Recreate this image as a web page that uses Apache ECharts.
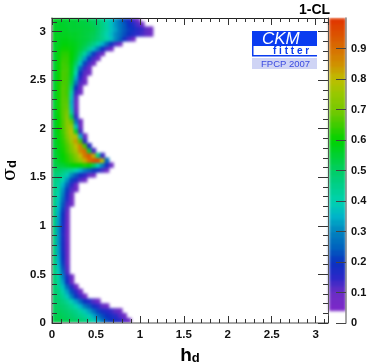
<!DOCTYPE html>
<html><head><meta charset="utf-8">
<style>html,body{margin:0;padding:0;background:#fff}#c{width:374px;height:363px}
#c canvas[data-zr-dom-id="zr_0"]{filter:blur(1.8px)}</style>
<script src="https://cdn.jsdelivr.net/npm/echarts@6/dist/echarts.min.js"></script>
</head><body><div id="c"></div>
<script>
const hStep = 0.05, sigmaStep = 0.05;
const xTickLabels = ['0','0.5','1','1.5','2','2.5','3'];
const colorbarLevels = [0.05,0.07,0.09,0.11,0.13,0.15,0.17,0.19,0.21,0.23,0.25,0.27,0.29,0.31,0.33,0.35,0.37,0.39,0.41,0.43,0.45,0.47,0.49,0.51,0.53,0.55,0.57,0.59,0.61,0.63,0.65,0.67,0.69,0.71,0.73,0.75,0.77,0.79,0.81,0.83,0.85,0.87,0.89,0.91,0.93,0.95,0.97,0.99];
const paletteStops = ['#7a28c8','#7a28c8','#6a2cc4','#2a28c8','#0a32c0','#0064be','#0082be','#00b4c8','#00d2af','#00cf8a','#00cd64','#00d032','#00d200','#40cc00','#78c800','#96c800','#bebe00','#d09000','#d76e00','#dc5000','#e13200'];
// 1-CL in percent; rows from sigma_d = 0.025 upward, columns from h_d = 0.025 rightward
const clRows = [
[53,53,52,52,51,50,49,47,44,40,34,28,23,20,18,16,12,9],
[52,52,51,50,49,47,45,43,39,34,28,23,20,18,16,12,9],
[51,51,50,49,47,45,42,38,33,27,22,18,16,14,11,9],
[51,50,49,47,44,40,35,29,24,19,15,11,9],
[50,49,47,44,39,33,26,20,16,12,9],
[50,48,44,38,30,21,14,9],
[49,47,41,33,23,15,9],
[49,45,37,26,16,9],
[49,43,33,19,10],
[48,42,30,17,9],
[48,39,26,12],
[48,37,23,11],
[48,35,21,10],
[48,34,20,10],
[48,33,19,10],
[47,33,18,9],
[47,32,18,9],
[47,32,18,9],
[47,32,17,9],
[47,32,18,9],
[47,33,18,9],
[47,33,19,10],
[47,34,20,10],
[47,35,22,11],
[47,37,24,13,9],
[47,38,27,16,9],
[46,40,30,18,10],
[46,42,32,21,12,9],
[46,43,35,25,15,9],
[46,45,40,32,22,17,12,9],
[47,47,44,39,31,24,19,15,11,9],
[50,50,48,46,44,40,35,30,25,21,18,13,9],
[52,54,55,57,59,60,60,62,60,52,40,30,18,10],
[53,56,59,62,65,69,74,82,90,95,96,80,25],
[53,57,60,63,67,72,80,89,94,82,45,14],
[53,58,61,65,70,77,86,90,55,13],
[54,58,62,66,72,80,87,65,15],
[54,59,63,68,76,84,65,15],
[54,59,64,70,78,78,35,10],
[54,60,65,72,80,55,13],
[54,60,66,73,76,38,10],
[54,60,66,73,68,28,9],
[54,60,67,72,52,14],
[54,61,67,70,42,11],
[54,61,67,68,37,10],
[54,61,67,67,35,10],
[54,61,67,66,38,11],
[54,61,67,65,42,14,9],
[54,61,67,65,47,20,9],
[54,61,66,65,52,28,12,9],
[54,60,66,65,55,34,15,9],
[54,60,66,65,57,40,20,11,9],
[54,60,65,65,58,44,26,14,9],
[54,60,65,64,59,50,37,22,13,9],
[54,59,64,64,60,54,45,33,21,13,9],
[55,59,63,63,60,56,50,42,32,21,13,9],
[55,58,61,61,59,57,54,50,44,37,29,20,13,9],
[56,57,59,59,58,57,55,53,50,46,41,35,27,19,13,9],
[57,57,58,58,57,56,55,54,53,51,48,45,41,37,31,25,19,13,9],
[57,57,57,57,56,56,55,54,53,52,49,45,40,36,31,27,23,20,17,15,13,11,9],
[56,56,56,56,55,55,55,54,54,53,50,46,42,37,33,28,24,21,19,16,14,11,9],
[56,56,56,55,55,55,54,54,53,52,49,46,42,37,32,28,24,20,17,13,9],
[56,56,55,55,55,54,54,53,52,50,48,45,41,37,32,27,22,18,13,9]
];

const cells = [];
clRows.forEach((row, r) => row.forEach((v, c) => {
  cells.push([(c + 0.5) * hStep, (r + 0.5) * sigmaStep, v / 100]);
}));
const barCells = colorbarLevels.map(v => [0.5, v, v]);

const renderCell = (dx, dy) => (params, api) => {
  const p = api.coord([api.value(0), api.value(1)]);
  const s = api.size([dx, dy]);
  return {type:'rect', shape:{x:p[0]-s[0]/2-0.3, y:p[1]-s[1]/2-0.3, width:s[0]+0.6, height:s[1]+0.6},
          style:{fill:api.visual('color')}};
};
const font = {fontFamily:'Liberation Sans', fontWeight:'bold', color:'#111'};
const dark = '#333', gray = '#888';
const axisCommon = {
  type:'value', min:0, max:3.14, interval:0.5, zlevel:1, minorTick:{show:true, splitNumber:5, length:4, lineStyle:{color:dark}},
  splitLine:{show:false}, minorSplitLine:{show:false}, axisLine:{show:true, onZero:false}
};
const labelFmt = v => xTickLabels[Math.round(v*2)] || '';

const chart = echarts.init(document.getElementById('c'), null, {renderer:'canvas'});
chart.setOption({
  animation:false,
  backgroundColor:'#fff',
  grid:[{left:52, top:18, width:276, height:305, outerBoundsMode:'none'},{left:329, top:18, width:17, height:305, outerBoundsMode:'none'}],
  visualMap:{type:'continuous', show:false, min:0, max:1, dimension:2, seriesIndex:[0,1], inRange:{color:paletteStops}},
  xAxis:[
    {...axisCommon, gridIndex:0, position:'bottom', axisLine:{show:true, onZero:false, lineStyle:{color:gray, width:1.5}},
     axisTick:{inside:true, length:7, lineStyle:{color:dark}}, minorTick:{show:true, splitNumber:5, length:4, lineStyle:{color:dark}},
     axisLabel:{...font, fontSize:11.5, margin:6, showMaxLabel:false, formatter:labelFmt},
     name:'{a|h}{b|d}', nameLocation:'middle', nameGap:18,
     nameTextStyle:{rich:{a:{fontFamily:'Liberation Sans',fontWeight:'bold',fontSize:19,color:'#000'},b:{fontFamily:'Liberation Sans',fontWeight:'bold',fontSize:13,color:'#000',padding:[6,0,0,0]}}}},
    {...axisCommon, gridIndex:0, position:'top', axisLine:{show:true, onZero:false, lineStyle:{color:'#222', width:1}},
     axisTick:{inside:true, length:7, lineStyle:{color:dark}}, axisLabel:{show:false}},
    {type:'value', gridIndex:1, min:0, max:1, show:false}
  ],
  yAxis:[
    {...axisCommon, gridIndex:0, position:'left', axisLine:{show:true, onZero:false, lineStyle:{color:gray, width:1.5}},
     axisTick:{inside:true, length:10, lineStyle:{color:dark}}, minorTick:{show:true, splitNumber:5, length:5, lineStyle:{color:dark}},
     axisLabel:{...font, fontSize:11.5, margin:6, showMaxLabel:false, formatter:labelFmt},
     name:'{a|σ}{b|d}', nameLocation:'middle', nameGap:21,
     nameTextStyle:{rich:{a:{fontFamily:'DejaVu Serif',fontSize:19,color:'#000'},b:{fontFamily:'Liberation Sans',fontWeight:'bold',fontSize:13,color:'#000',padding:[6,0,0,0]}}}},
    {...axisCommon, gridIndex:0, position:'right', axisLine:{show:true, onZero:false, lineStyle:{color:'#555', width:1}},
     axisTick:{inside:true, length:10, lineStyle:{color:dark}}, minorTick:{show:true, splitNumber:5, length:5, lineStyle:{color:dark}}, axisLabel:{show:false}},
    {type:'value', gridIndex:1, position:'right', min:0, max:1, interval:0.1, zlevel:1,
     axisLine:{show:true, onZero:false, lineStyle:{color:gray, width:1.5}},
     axisTick:{inside:true, length:10, lineStyle:{color:'#444'}}, splitLine:{show:false},
     axisLabel:{...font, fontSize:11, margin:5, showMaxLabel:false}}
  ],
  series:[
    {type:'custom', xAxisIndex:0, yAxisIndex:0, zlevel:0, data:cells, clip:true, renderItem:renderCell(hStep, sigmaStep), encode:{x:0,y:1}, silent:true},
    {type:'custom', xAxisIndex:2, yAxisIndex:2, zlevel:0, data:barCells, clip:true, renderItem:renderCell(1, 0.02), encode:{x:0,y:1}, silent:true}
  ],
  graphic:[
    {type:'rect', zlevel:1, z:-10, shape:{x:0, y:0, width:374, height:17.5}, style:{fill:'#fff'}},
    {type:'rect', zlevel:1, z:-10, shape:{x:0, y:0, width:51.5, height:363}, style:{fill:'#fff'}},
    {type:'rect', zlevel:1, z:-10, shape:{x:0, y:323.5, width:374, height:40}, style:{fill:'#fff'}},
    {type:'rect', zlevel:1, z:-10, shape:{x:346.5, y:0, width:28, height:363}, style:{fill:'#fff'}},
    {type:'text', zlevel:1, left:299, top:3, style:{text:'1-CL', font:'bold 14px "Liberation Sans"', fill:'#000'}},
    {type:'rect', zlevel:1, shape:{x:252, y:31, width:65, height:15}, style:{fill:'#0a3cf0'}},
    {type:'rect', zlevel:1, shape:{x:252, y:46, width:65, height:10}, style:{fill:'#fff'}},
    {type:'rect', zlevel:1, shape:{x:252, y:46, width:1.5, height:10}, style:{fill:'#0a3cf0'}},
    {type:'rect', zlevel:1, shape:{x:252, y:55, width:65, height:1.5}, style:{fill:'#0a3cf0'}},
    {type:'rect', zlevel:1, shape:{x:252, y:58, width:65, height:11}, style:{fill:'#cfd4f5'}},
    {type:'text', zlevel:1, left:262, top:31, style:{text:'CKM', font:'italic 17px "Liberation Sans"', fill:'#fff'}},
    {type:'text', zlevel:1, left:273, top:46, style:{text:'f i t t e r', font:'bold 10px "Liberation Sans"', fill:'#0a3cf0'}},
    {type:'text', zlevel:1, left:261, top:59, style:{text:'FPCP 2007', font:'9.5px "Liberation Sans"', fill:'#3a4ae0'}}
  ]
});
</script></body></html>
